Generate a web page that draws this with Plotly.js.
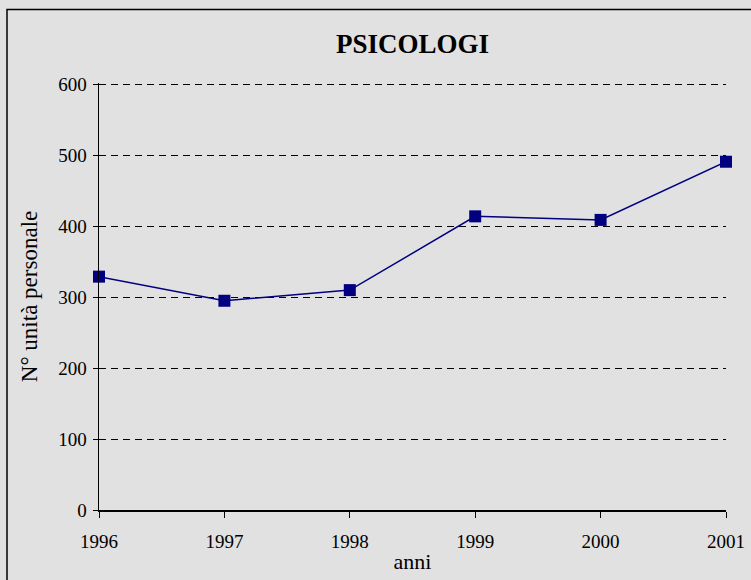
<!DOCTYPE html>
<html>
<head>
<meta charset="utf-8">
<script src="https://cdn.plot.ly/plotly-3.0.1.min.js"></script>
<style>
html,body{margin:0;padding:0;background:#ffffff;}
#chart{width:751px;height:580px;}
</style>
</head>
<body>
<div id="chart"></div>
<script>
const years = [1996, 1997, 1998, 1999, 2000, 2001];
const values = [329, 295, 310, 414, 409, 491];
const yTicks = [0, 100, 200, 300, 400, 500, 600];
const chartTitle = 'PSICOLOGI';
const xTitle = 'anni';
const yTitle = 'N° unità personale';

const font = 'Liberation Serif, Times New Roman, serif';
const trace = {
  x: years, y: values, type: 'scatter', mode: 'lines+markers',
  line: {color: '#000080', width: 1.5},
  marker: {symbol: 'square', size: 12, color: '#000080'},
  cliponaxis: false, hoverinfo: 'none'
};
const yRange = [0, 602];
const layout = {
  width: 751, height: 580,
  margin: {l: 99, r: 25, t: 82.6, b: 70},
  paper_bgcolor: '#e1e1e1', plot_bgcolor: '#e1e1e1',
  showlegend: false,
  font: {family: font, color: '#000', size: 19},
  title: {text: '<b>' + chartTitle + '</b>', font: {family: font, size: 27, color: '#000'}, x: 0.5, xref: 'paper', y: 1 - 44/580, yanchor: 'middle'},
  xaxis: {
    range: [1996, 2001], tickvals: years, ticktext: years.map(String),
    showline: true, linecolor: '#000', linewidth: 1.5, mirror: false,
    ticks: 'outside', ticklen: 6, tickcolor: '#000', tickwidth: 1,
    showgrid: false, zeroline: false,
    tickfont: {family: font, size: 19}, ticklabelstandoff: 8,
    title: {text: xTitle, font: {family: font, size: 22}, standoff: 2}
  },
  yaxis: {
    range: yRange, tickvals: yTicks,
    showline: true, linecolor: '#000', linewidth: 1.5,
    ticks: 'outside', ticklen: 5, tickcolor: '#000', tickwidth: 1,
    showgrid: true, gridcolor: '#000', gridwidth: 1, griddash: '7px,5px',
    zeroline: false,
    tickfont: {family: font, size: 19}, ticklabelstandoff: 2,
    title: {text: yTitle, font: {family: font, size: 23}, standoff: 14}
  },
  yaxis2: {
    range: yRange, tickvals: yTicks, overlaying: 'y', side: 'left',
    showline: false, showgrid: false, zeroline: false,
    ticks: 'inside', ticklen: 4, tickcolor: '#000', tickwidth: 1,
    showticklabels: false
  },
  shapes: [
    {type: 'rect', xref: 'paper', yref: 'paper',
     x0: (7 - 99) / 627, x1: (760 - 99) / 627,
     y0: (510 - 590) / 427.4, y1: (510 - 9) / 427.4,
     line: {color: '#000', width: 1.5}, fillcolor: 'rgba(0,0,0,0)', layer: 'below'}
  ]
};
const tickTrace = {x: [], y: [], yaxis: 'y2', type: 'scatter', hoverinfo: 'none'};
Plotly.newPlot('chart', [tickTrace, trace], layout, {staticPlot: true, displayModeBar: false});
</script>
</body>
</html>
